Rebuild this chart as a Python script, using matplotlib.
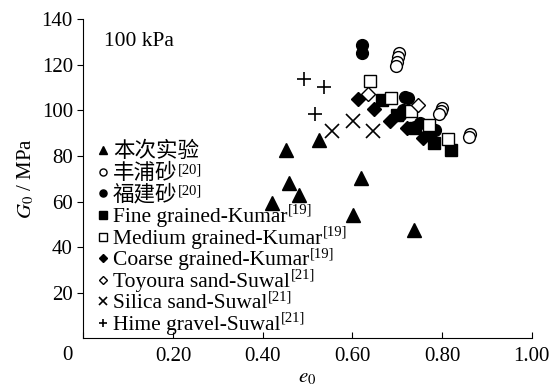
import matplotlib
matplotlib.use("Agg")
import matplotlib.pyplot as plt
import matplotlib.transforms as mtransforms

plt.rcParams['font.family'] = ['Liberation Serif', 'Noto Sans CJK SC', 'DejaVu Sans']
plt.rcParams['mathtext.fontset'] = 'stix'
plt.rcParams['font.size'] = 15

# --- dati (e0, G0 in MPa) ---
e_test = [0.421, 0.453, 0.458, 0.481, 0.526, 0.601, 0.620, 0.737]
g_test = [59.5, 82.6, 68.3, 62.9, 87.0, 54.1, 70.2, 47.5]

e_toyo = [0.703, 0.701, 0.700, 0.698, 0.800, 0.797, 0.794, 0.862, 0.861]
g_toyo = [125.3, 123.5, 121.3, 119.4, 100.9, 99.7, 98.4, 89.6, 88.5]

e_fujian = [0.621, 0.621, 0.717, 0.725, 0.714, 0.706, 0.751, 0.784, 0.740, 0.770]
g_fujian = [128.9, 125.0, 106.0, 105.6, 100.1, 98.0, 94.3, 91.4, 92.8, 89.5]

e_fine = [0.666, 0.699, 0.740, 0.781, 0.820]
g_fine = [104.5, 98.0, 92.1, 85.5, 82.6]

e_medium = [0.639, 0.686, 0.730, 0.772, 0.814]
g_medium = [112.9, 105.3, 99.7, 93.6, 87.3]

e_coarse = [0.612, 0.649, 0.684, 0.721, 0.757]
g_coarse = [105.0, 100.4, 95.3, 92.1, 87.7]

e_toyoura = [0.634, 0.746]
g_toyoura = [107.0, 102.3]

e_silica = [0.555, 0.602, 0.647]
g_silica = [90.9, 95.5, 90.9]

e_hime = [0.493, 0.537, 0.517]
g_hime = [113.7, 110.1, 98.4]

labels = ['本次实验', '丰浦砂', '福建砂', 'Fine grained-Kumar', 'Medium grained-Kumar',
          'Coarse grained-Kumar', 'Toyoura sand-Suwal', 'Silica sand-Suwal', 'Hime gravel-Suwal']
refs = ['', '[20]', '[20]', '[19]', '[19]', '[19]', '[21]', '[21]', '[21]']

x_ticks = [0, 0.2, 0.4, 0.6, 0.8, 1.0]
x_labels = ['', '0.20', '0.40', '0.60', '0.80', '1.00']
y_ticks = [20, 40, 60, 80, 100, 120, 140]

series = [(e_test, g_test), (e_toyo, g_toyo), (e_fujian, g_fujian), (e_fine, g_fine),
          (e_medium, g_medium), (e_coarse, g_coarse), (e_toyoura, g_toyoura),
          (e_silica, g_silica), (e_hime, g_hime)]

# stile dei marker: (marker, pieno?, dimensione)
styles = [('^', True, 10), ('o', False, 8.5), ('o', True, 8.5), ('s', True, 8.5),
          ('s', False, 8.5), ('D', True, 7), ('D', False, 7), ('x', True, 9.5), ('+', True, 9.5)]

fig = plt.figure(figsize=(5.6, 3.92), dpi=100)
ax = fig.add_axes([0.1488, 0.137, 0.8007, 0.814])


def mstyle(m, filled, size):
    return dict(marker=m, ls='none', ms=size, mec='black', mew=1.2 if m in 'x+' else 1.0,
                mfc='black' if filled else 'white', color='black')


for (xs, ys), (m, filled, size) in zip(series, styles):
    ax.plot(xs, ys, **mstyle(m, filled, size))

ax.set_xlim(0, 1.0)
ax.set_ylim(0, 140)
ax.set_xticks(x_ticks)
ax.set_xticklabels(x_labels)
ax.set_yticks(y_ticks)
ax.tick_params(axis='x', direction='in', length=4, pad=6)
ax.tick_params(axis='y', direction='out', length=4)
ax.spines['top'].set_visible(False)
ax.spines['right'].set_visible(False)

# "0" all'origine, come nel grafico originale
off = mtransforms.offset_copy(ax.transData, fig=fig, x=-11, y=-17, units='dots')
ax.text(0, 0, '0', transform=off, ha='right', va='center')

ax.text(0.045, 130, '100 kPa', ha='left', va='center', fontsize=15.5)
ax.set_xlabel('$e_0$', labelpad=2)
ax.set_ylabel('$G_0$ / MPa')

# legenda costruita a mano: righe a passo costante
leg_top, leg_dy = 0.590, 0.0678
base = mtransforms.offset_copy(ax.transAxes, fig=fig, x=0, y=-7, units='dots')
for i, (lab, ref, (m, filled, size)) in enumerate(zip(labels, refs, styles)):
    yy = leg_top - i * leg_dy
    ax.plot([0.044], [yy], transform=ax.transAxes, clip_on=False,
            **mstyle(m, filled, size * 0.6))
    t = ax.text(0.066, yy, lab, transform=base, ha='left', va='baseline', fontsize=15.5)
    if ref:
        dy = 0 if lab[0] > '\u3000' else 3
        ax.annotate(ref, xy=(1, 1), xycoords=t, xytext=(0.5, dy),
                    textcoords='offset points', ha='left', va='top', fontsize=10.5)

fig.savefig('out.png', dpi=100)
